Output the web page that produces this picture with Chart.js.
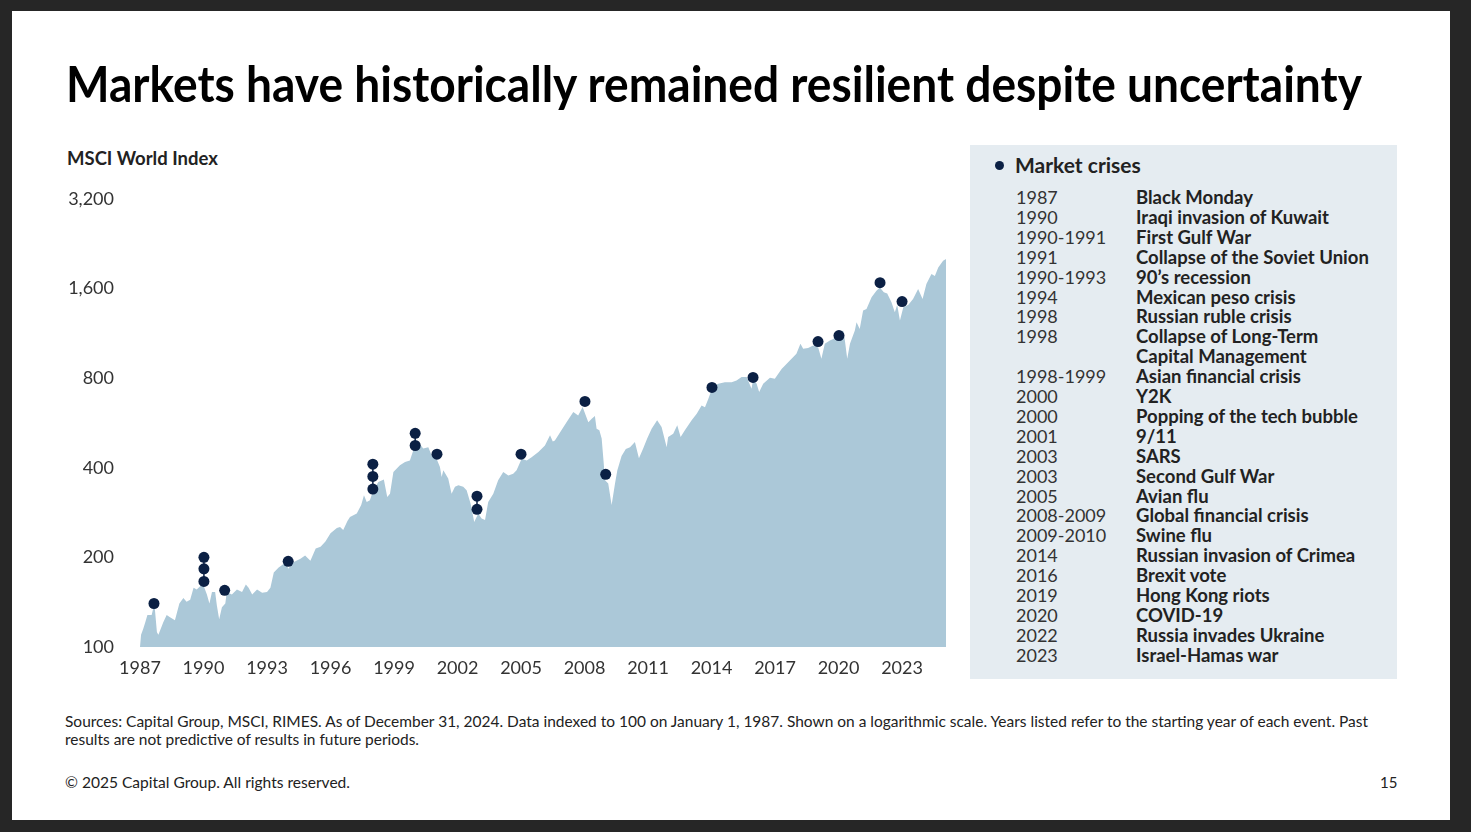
<!DOCTYPE html>
<html>
<head>
<meta charset="utf-8">
<script src="https://cdn.jsdelivr.net/npm/chart.js@4"></script>
<style>
  html, body { margin: 0; padding: 0; }
  body { width: 1471px; height: 832px; background: #262626; position: relative; overflow: hidden; font-family: Lato, "Noto Sans", sans-serif; }
  .slide { position: absolute; left: 12px; top: 11px; width: 1438px; height: 809px; background: #fff; }
  .t { position: absolute; white-space: nowrap; transform-origin: left top; }
  #title { left: 66px; top: 54px; font-size: 50px; font-weight: 700; color: #000; line-height: 58px; }
  #ylab { left: 67px; top: 147px; font-size: 18.5px; font-weight: 700; color: #222; line-height: 22px; }
  #chartBox { position: absolute; left: 60px; top: 170px; width: 892px; height: 517px; }
  #panel { position: absolute; left: 970px; top: 145px; width: 427px; height: 534px; background: #e5ecf1; }
  #panelHead { left: 1015px; top: 152px; font-size: 21px; font-weight: 700; color: #222; line-height: 26px; }
  #bullet { position: absolute; left: 995px; top: 161px; width: 9px; height: 9px; border-radius: 50%; background: #0b2044; }
  .yr { font-size: 18px; color: #333; line-height: 20px; }
  .ev { font-size: 18.5px; font-weight: 700; color: #222; line-height: 20px; }
  .foot { font-size: 15px; color: #222; line-height: 18px; }
</style>
</head>
<body>
<div class="slide"></div>
<div class="t" id="title" data-w="1296">Markets have historically remained resilient despite uncertainty</div>
<div class="t" id="ylab">MSCI World Index</div>
<div id="chartBox"><canvas id="c"></canvas></div>
<div id="panel"></div>
<div id="bullet"></div>
<div class="t" id="panelHead">Market crises</div>
<div id="rows"></div>
<div class="t foot" style="left:65px;top:712px" data-w="1303">Sources: Capital Group, MSCI, RIMES. As of December 31, 2024. Data indexed to 100 on January 1, 1987. Shown on a logarithmic scale. Years listed refer to the starting year of each event. Past</div>
<div class="t foot" style="left:65px;top:730px" data-w="354">results are not predictive of results in future periods.</div>
<div class="t foot" style="left:65px;top:773px" data-w="285">© 2025 Capital Group. All rights reserved.</div>
<div class="t foot" style="left:1380px;top:773px">15</div>
<script>
// MSCI World index, indexed to 100 on Jan 1 1987
const areaYears = [
  1987.00, 1987.05, 1987.15, 1987.25, 1987.35, 1987.55, 1987.68, 1987.80, 1987.87, 1988.10,
  1988.26, 1988.40, 1988.65, 1988.86, 1989.05, 1989.20, 1989.37, 1989.53, 1989.68, 1989.84,
  1989.97, 1990.16, 1990.28, 1990.40, 1990.55, 1990.63, 1990.74, 1990.87, 1991.03, 1991.10,
  1991.34, 1991.58, 1991.82, 1992.00, 1992.13, 1992.30, 1992.53, 1992.77, 1993.00, 1993.16,
  1993.32, 1993.55, 1993.70, 1993.90, 1994.00, 1994.27, 1994.58, 1994.80, 1995.05, 1995.30,
  1995.53, 1995.76, 1996.00, 1996.30, 1996.45, 1996.60, 1996.80, 1996.92, 1997.24, 1997.45,
  1997.58, 1997.71, 1997.86, 1998.02, 1998.26, 1998.52, 1998.68, 1998.81, 1998.97, 1999.28,
  1999.52, 1999.75, 1999.94, 2000.15, 2000.38, 2000.62, 2000.78, 2001.01, 2001.17, 2001.25,
  2001.33, 2001.56, 2001.72, 2001.88, 2002.04, 2002.27, 2002.43, 2002.62, 2002.79, 2002.98,
  2003.14, 2003.30, 2003.45, 2003.69, 2003.92, 2004.16, 2004.40, 2004.63, 2004.79, 2005.03,
  2005.27, 2005.50, 2005.82, 2006.13, 2006.37, 2006.50, 2006.60, 2006.84, 2007.15, 2007.47,
  2007.70, 2007.91, 2008.18, 2008.34, 2008.49, 2008.57, 2008.70, 2008.81, 2008.90, 2008.97,
  2009.12, 2009.28, 2009.44, 2009.55, 2009.75, 2009.95, 2010.15, 2010.38, 2010.57, 2010.77,
  2010.96, 2011.17, 2011.43, 2011.64, 2011.88, 2011.95, 2012.19, 2012.38, 2012.54, 2012.74,
  2013.06, 2013.30, 2013.53, 2013.69, 2013.85, 2014.05, 2014.32, 2014.63, 2014.95, 2015.18,
  2015.42, 2015.66, 2015.89, 2015.97, 2016.13, 2016.25, 2016.44, 2016.76, 2016.99, 2017.31,
  2017.70, 2018.01, 2018.20, 2018.33, 2018.56, 2018.80, 2019.04, 2019.19, 2019.35, 2019.59,
  2019.75, 2020.07, 2020.22, 2020.30, 2020.41, 2020.54, 2020.77, 2020.85, 2021.00, 2021.16,
  2021.32, 2021.56, 2021.79, 2021.95, 2022.14, 2022.30, 2022.50, 2022.66, 2022.77, 2022.90,
  2023.06, 2023.30, 2023.52, 2023.76, 2023.97, 2024.15, 2024.39, 2024.55, 2024.71, 2024.94,
  2025.08
];
const areaValues = [
  100, 110, 115, 121, 128, 128, 140, 112, 110, 121,
  128, 126, 123, 140, 146, 142, 144, 158, 156, 160,
  163, 150, 140, 153, 153, 138, 124, 136, 140, 153,
  150, 156, 153, 162, 158, 150, 156, 152, 153, 158,
  178, 185, 188, 193, 183, 193, 198, 203, 195, 214,
  217, 226, 241, 251, 253, 247, 265, 273, 281, 300,
  323, 307, 311, 336, 358, 365, 319, 327, 387, 408,
  418, 423, 464, 488, 464, 469, 440, 429, 402, 372,
  392, 368, 327, 345, 349, 345, 336, 303, 263, 281,
  270, 267, 307, 327, 363, 387, 377, 382, 392, 429,
  423, 434, 452, 475, 514, 490, 494, 525, 569, 615,
  599, 640, 569, 584, 597, 541, 534, 501, 420, 363,
  354, 300, 354, 392, 438, 462, 469, 488, 430, 464,
  501, 541, 577, 548, 469, 507, 520, 555, 507, 534,
  577, 607, 647, 639, 682, 746, 765, 775, 775, 785,
  806, 806, 737, 796, 765, 718, 765, 802, 796, 859,
  916, 965, 1043, 1003, 1010, 1029, 1013, 929, 1043, 1069,
  1083, 1140, 1155, 1069, 929, 1043, 1155, 1232, 1170, 1348,
  1365, 1494, 1573, 1613, 1553, 1540, 1437, 1330, 1410, 1248,
  1383, 1410, 1475, 1594, 1475, 1656, 1789, 1760, 1883, 1983,
  2010
];

// crisis markers; points sharing a group are joined by a short stem
const crisisX = [1987.66, 1990.02, 1990.02, 1990.02, 1991.0, 1994.0, 1998.0, 1998.0, 1998.0, 2000.0, 2000.0, 2001.03, 2002.92, 2002.92, 2005.0, 2008.02, 2009.0, 2014.02, 2015.96, 2019.03, 2020.02, 2021.96, 2023.0];
const crisisY = [140, 200, 183, 166, 155, 194, 411, 374, 339, 522, 475, 444, 321, 290, 444, 668, 380, 744, 804, 1061, 1111, 1673, 1445];
const crisisGroup = [1, 2, 2, 2, 3, 4, 5, 5, 5, 6, 6, 7, 8, 8, 9, 10, 11, 12, 13, 14, 15, 16, 17];

const yTicks = [100, 200, 400, 800, 1600, 3200];
const xTicks = [1987, 1990, 1993, 1996, 1999, 2002, 2005, 2008, 2011, 2014, 2017, 2020, 2023];

const legendYears = ['1987', '1990', '1990-1991', '1991', '1990-1993', '1994', '1998', '1998', '', '1998-1999', '2000', '2000', '2001', '2003', '2003', '2005', '2008-2009', '2009-2010', '2014', '2016', '2019', '2020', '2022', '2023'];
const legendEvents = ['Black Monday', 'Iraqi invasion of Kuwait', 'First Gulf War', 'Collapse of the Soviet Union', '90’s recession', 'Mexican peso crisis', 'Russian ruble crisis', 'Collapse of Long-Term', 'Capital Management', 'Asian financial crisis', 'Y2K', 'Popping of the tech bubble', '9/11', 'SARS', 'Second Gulf War', 'Avian flu', 'Global financial crisis', 'Swine flu', 'Russian invasion of Crimea', 'Brexit vote', 'Hong Kong riots', 'COVID-19', 'Russia invades Ukraine', 'Israel-Hamas war'];

// legend rows
const rows = document.getElementById('rows');
legendYears.forEach((y, i) => {
  const top = 187 + i * 19.9;
  rows.insertAdjacentHTML('beforeend',
    `<div class="t yr" style="left:1016px;top:${top}px">${y}</div>` +
    `<div class="t ev" style="left:1136px;top:${top}px">${legendEvents[i]}</div>`);
});

// squeeze wide text lines to the width they take in the slide
document.querySelectorAll('[data-w]').forEach(el => {
  const nat = el.getBoundingClientRect().width;
  el.style.transform = `scaleX(${(+el.dataset.w / nat).toFixed(4)})`;
});

const areaData = areaYears.map((x, i) => ({ x: x, y: areaValues[i] }));
const crisisData = [];
crisisX.forEach((x, i) => {
  if (i > 0 && crisisGroup[i] !== crisisGroup[i - 1]) crisisData.push({ x: x, y: null });
  crisisData.push({ x: x, y: crisisY[i] });
});

const tickFont = { family: 'Lato, "Noto Sans", sans-serif', size: 18 };

new Chart(document.getElementById('c'), {
  type: 'line',
  data: {
    datasets: [
      {
        label: 'Market crises',
        data: crisisData,
        borderColor: '#0b2044',
        backgroundColor: '#0b2044',
        borderWidth: 1.5,
        pointRadius: 5.5,
        pointHoverRadius: 5.5,
        pointBorderWidth: 0,
        spanGaps: false,
        fill: false
      },
      {
        label: 'MSCI World Index',
        data: areaData,
        borderWidth: 0,
        borderColor: '#abc8d8',
        backgroundColor: '#abc8d8',
        pointRadius: 0,
        tension: 0,
        fill: 'start'
      }
    ]
  },
  options: {
    responsive: true,
    maintainAspectRatio: false,
    animation: false,
    layout: { padding: 0 },
    plugins: { legend: { display: false }, tooltip: { enabled: false } },
    scales: {
      x: {
        type: 'linear',
        min: 1987,
        max: 2025.1,
        grid: { display: false },
        border: { display: false },
        afterBuildTicks: s => { s.ticks = xTicks.map(v => ({ value: v })); },
        afterFit: s => { s.height = 40; },
        ticks: { color: '#333', font: tickFont, padding: 2, maxRotation: 0, callback: v => String(v) }
      },
      y: {
        type: 'logarithmic',
        min: 100,
        max: 3200,
        grid: { display: false },
        border: { display: false },
        afterBuildTicks: s => { s.ticks = yTicks.map(v => ({ value: v })); },
        afterFit: s => { s.width = 80; },
        ticks: { color: '#333', font: tickFont, padding: 18, callback: v => v.toLocaleString('en-US') }
      }
    }
  }
});
</script>
</body>
</html>
